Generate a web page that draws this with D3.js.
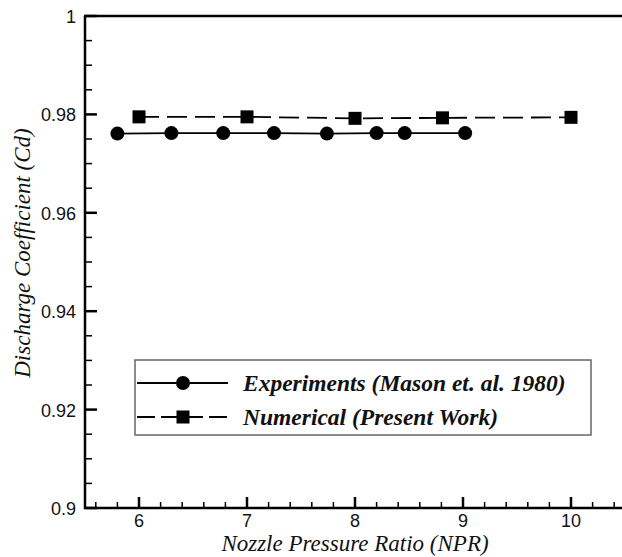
<!DOCTYPE html>
<html>
<head>
<meta charset="utf-8">
<script src="https://cdn.jsdelivr.net/npm/d3@7"></script>
<style>
  html, body { margin: 0; padding: 0; background: #fff; overflow: hidden; }
  svg { display: block; }
  .serif { font-family: "Liberation Serif", "Times New Roman", "DejaVu Serif", serif; }
  .sans { font-family: "Liberation Sans", Arial, sans-serif; }
</style>
</head>
<body>
<svg id="chart" width="622" height="557"></svg>
<script>
// Discharge coefficient vs nozzle pressure ratio
const expNPR = [5.8, 6.3, 6.78, 7.25, 7.74, 8.2, 8.46, 9.02];
const expCd  = [0.9761, 0.9762, 0.9762, 0.9762, 0.9761, 0.9762, 0.9762, 0.9762];
const numNPR = [6, 7, 8, 8.81, 10];
const numCd  = [0.9795, 0.9795, 0.9792, 0.9793, 0.9794];
const xTicks = [6, 7, 8, 9, 10];
const yTicks = [0.9, 0.92, 0.94, 0.96, 0.98, 1];
const yTickLabels = ["0.9", "0.92", "0.94", "0.96", "0.98", "1"];
const legendLabels = ["Experiments (Mason et. al. 1980)", "Numerical (Present Work)"];

const svg = d3.select("#chart");
const plotLeft = 85, plotTop = 16, plotBottom = 508, plotRight = 625;

const x = d3.scaleLinear().domain([5.5, 10.5]).range([plotLeft, plotRight]);
const y = d3.scaleLinear().domain([0.9, 1.0]).range([plotBottom, plotTop]);

// frame: left axis, bottom axis, top border
svg.append("line").attr("x1", plotLeft).attr("x2", plotLeft).attr("y1", plotTop).attr("y2", plotBottom + 1)
  .attr("stroke", "#000").attr("stroke-width", 2.5);
svg.append("line").attr("x1", plotLeft - 1).attr("x2", plotRight).attr("y1", plotBottom).attr("y2", plotBottom)
  .attr("stroke", "#000").attr("stroke-width", 2.5);
svg.append("line").attr("x1", plotLeft - 1).attr("x2", plotRight).attr("y1", plotTop).attr("y2", plotTop)
  .attr("stroke", "#000").attr("stroke-width", 2.5);

// x ticks (inward)
const xMinor = d3.range(5.6, 10.5, 0.2).filter(v => Math.abs(v - Math.round(v)) > 1e-6);
svg.append("g").selectAll("line").data(xMinor).join("line")
  .attr("x1", d => x(d)).attr("x2", d => x(d))
  .attr("y1", plotBottom).attr("y2", plotBottom - 6)
  .attr("stroke", "#000").attr("stroke-width", 1.5);
svg.append("g").selectAll("line").data(xTicks).join("line")
  .attr("x1", d => x(d)).attr("x2", d => x(d))
  .attr("y1", plotBottom).attr("y2", plotBottom - 11)
  .attr("stroke", "#000").attr("stroke-width", 2.5);
svg.append("g").selectAll("text").data(xTicks).join("text")
  .attr("class", "sans")
  .attr("x", d => x(d)).attr("y", plotBottom + 19)
  .attr("text-anchor", "middle")
  .attr("font-size", 18).attr("fill", "#111")
  .text(d => d);

// y ticks (inward)
const yMinor = d3.range(0, 21).map(i => 0.9 + i * 0.005).filter((v, i) => i % 4 !== 0);
svg.append("g").selectAll("line").data(yMinor).join("line")
  .attr("x1", plotLeft).attr("x2", plotLeft + 7)
  .attr("y1", d => y(d)).attr("y2", d => y(d))
  .attr("stroke", "#000").attr("stroke-width", 1.5);
svg.append("g").selectAll("line").data(yTicks).join("line")
  .attr("x1", plotLeft).attr("x2", plotLeft + 12)
  .attr("y1", d => y(d)).attr("y2", d => y(d))
  .attr("stroke", "#000").attr("stroke-width", 2.5);
svg.append("g").selectAll("text").data(yTicks).join("text")
  .attr("class", "sans")
  .attr("x", plotLeft - 9).attr("y", d => y(d) + 7)
  .attr("text-anchor", "end")
  .attr("font-size", 18).attr("fill", "#111")
  .text((d, i) => yTickLabels[i]);

// axis titles
svg.append("text")
  .attr("class", "serif")
  .attr("x", 355).attr("y", 551)
  .attr("text-anchor", "middle")
  .attr("font-style", "italic").attr("font-size", 23).attr("fill", "#111")
  .text("Nozzle Pressure Ratio (NPR)");
svg.append("text")
  .attr("class", "serif")
  .attr("transform", "translate(30,253) rotate(-90)")
  .attr("text-anchor", "middle")
  .attr("font-style", "italic").attr("font-size", 23).attr("fill", "#111")
  .text("Discharge Coefficient (Cd)");

// series
const expData = expNPR.map((v, i) => [v, expCd[i]]);
const numData = numNPR.map((v, i) => [v, numCd[i]]);
const line = d3.line().x(d => x(d[0])).y(d => y(d[1]));

svg.append("path").datum(expData).attr("d", line)
  .attr("fill", "none").attr("stroke", "#000").attr("stroke-width", 1.8);
svg.append("path").datum(numData).attr("d", line)
  .attr("fill", "none").attr("stroke", "#000").attr("stroke-width", 1.8)
  .attr("stroke-dasharray", "20,8");

svg.append("g").selectAll("circle").data(expData).join("circle")
  .attr("cx", d => x(d[0])).attr("cy", d => y(d[1])).attr("r", 7)
  .attr("fill", "#000");
const sq = 13;
svg.append("g").selectAll("rect").data(numData).join("rect")
  .attr("x", d => x(d[0]) - sq / 2).attr("y", d => y(d[1]) - sq / 2)
  .attr("width", sq).attr("height", sq).attr("fill", "#000");

// legend
const lg = svg.append("g");
lg.append("rect").attr("x", 135).attr("y", 360).attr("width", 456).attr("height", 75)
  .attr("fill", "#fff").attr("stroke", "#666").attr("stroke-width", 1.5);
const rows = [383, 417];
lg.append("line").attr("x1", 137).attr("x2", 228).attr("y1", rows[0]).attr("y2", rows[0])
  .attr("stroke", "#000").attr("stroke-width", 1.8);
lg.append("circle").attr("cx", 183).attr("cy", rows[0]).attr("r", 7).attr("fill", "#000");
lg.append("line").attr("x1", 137).attr("x2", 228).attr("y1", rows[1]).attr("y2", rows[1])
  .attr("stroke", "#000").attr("stroke-width", 1.8).attr("stroke-dasharray", "18,6");
lg.append("rect").attr("x", 183 - sq / 2).attr("y", rows[1] - sq / 2)
  .attr("width", sq).attr("height", sq).attr("fill", "#000");
lg.selectAll("text").data(legendLabels).join("text")
  .attr("class", "serif")
  .attr("x", 243).attr("y", (d, i) => rows[i] + 8)
  .attr("font-style", "italic").attr("font-weight", "bold")
  .attr("font-size", 23.5).attr("fill", "#111")
  .text(d => d);
</script>
</body>
</html>
